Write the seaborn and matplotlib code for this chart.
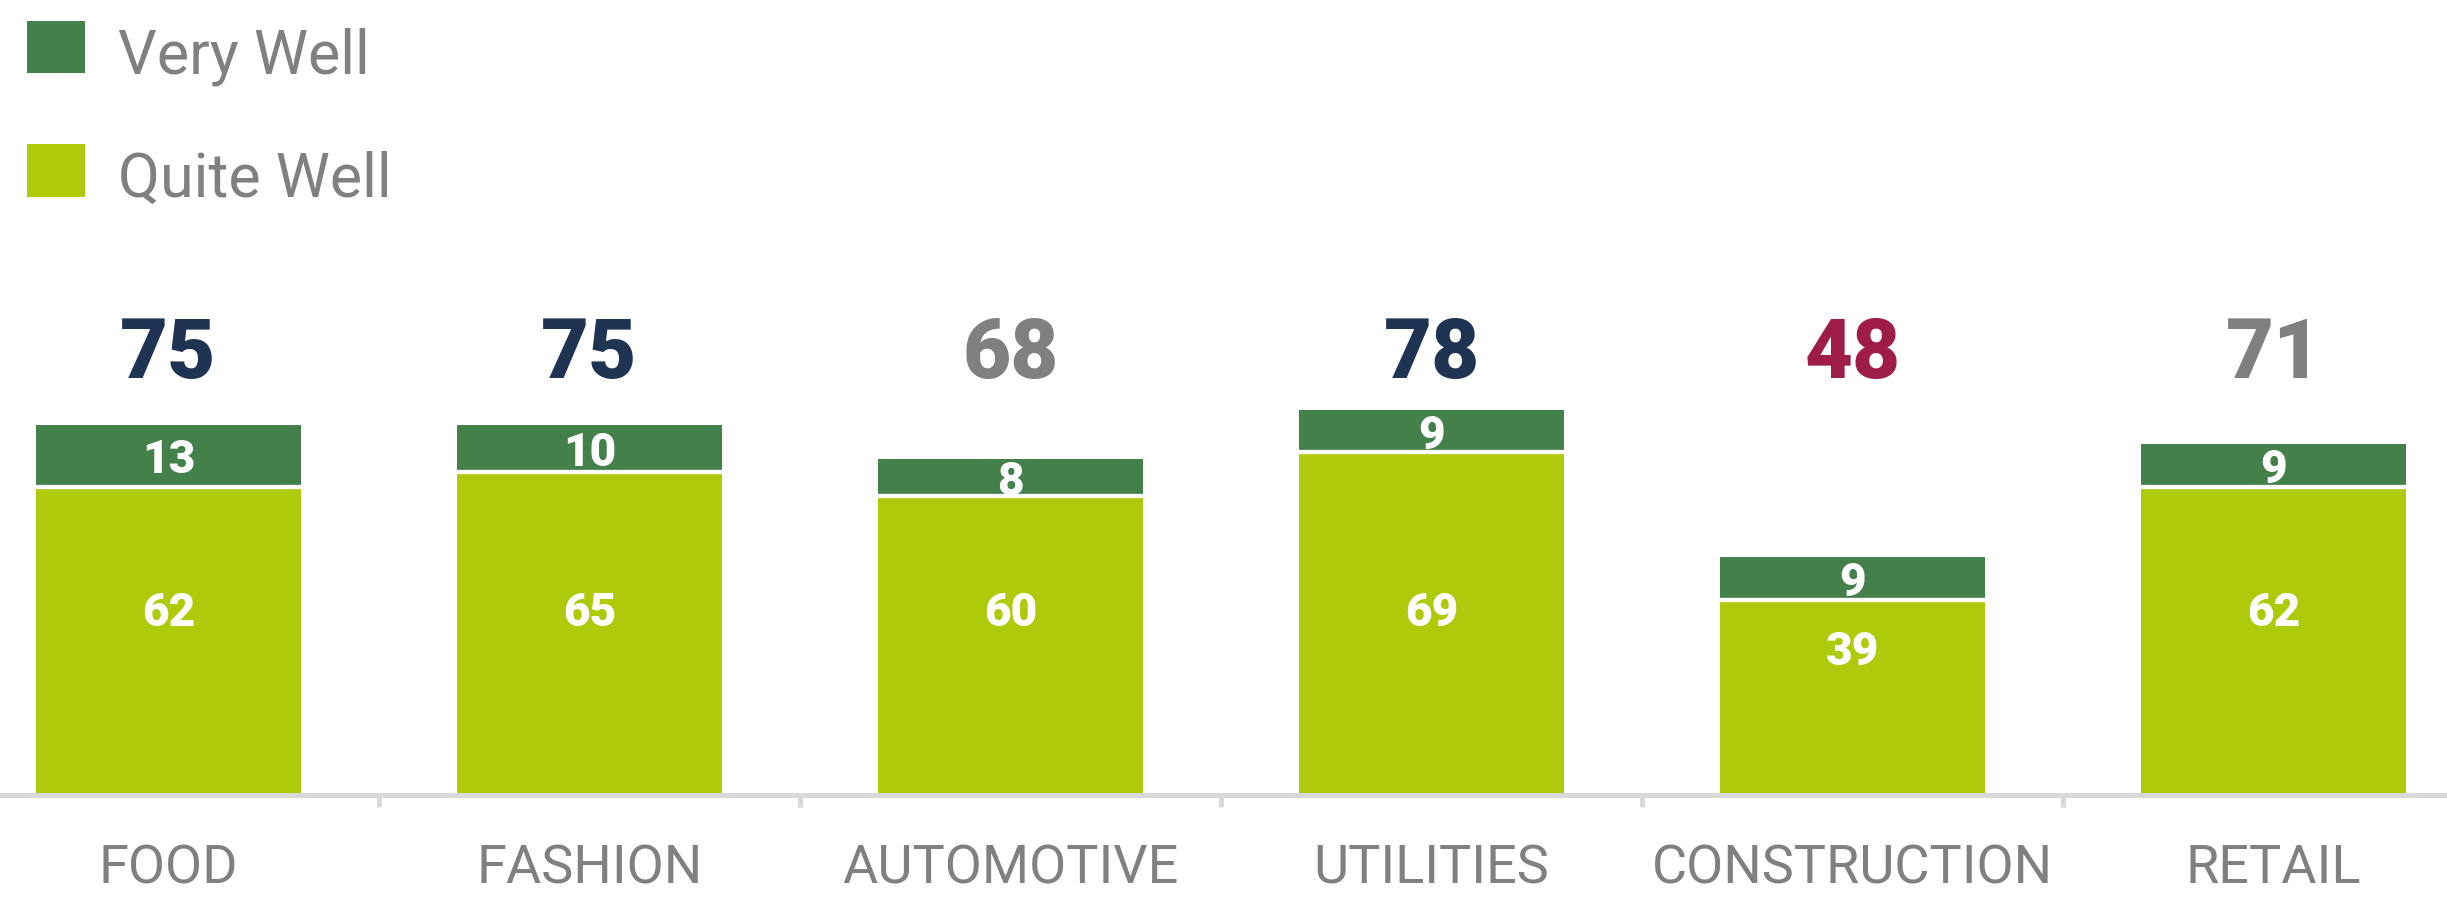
import numpy as np
import pandas as pd
import matplotlib
matplotlib.use("Agg")
import matplotlib.pyplot as plt
from matplotlib.patches import Patch, Rectangle
from matplotlib.legend_handler import HandlerPatch
from matplotlib.transforms import ScaledTranslation
import seaborn as sns

# Survey results per sector (percent of respondents)
sectors = ["FOOD", "FASHION", "AUTOMOTIVE", "UTILITIES", "CONSTRUCTION", "RETAIL"]
very_well = [13, 10, 8, 9, 9, 9]
quite_well = [62, 65, 60, 69, 39, 62]
series_names = ["Very Well", "Quite Well"]

# Styling
DARK = "#43804a"
LIGHT = "#afca0b"
GREY = "#808080"
NAVY = "#1f3352"
CRIMSON = "#a01c48"
AXIS = "#d9d9d9"

DPI = 100
W, H = 2447, 897
px = 72 / DPI  # points per pixel
TOTAL_ROW = 84.5  # baseline of the row of totals, in data units


def total_color(v):
    if v >= 75:
        return NAVY
    if v < 50:
        return CRIMSON
    return GREY


def square_on_baseline(legend, orig_handle, xdescent, ydescent, width, height, fontsize):
    # legend swatch whose bottom edge sits on the text baseline
    return Rectangle((-xdescent, 0), width, height)


df = pd.DataFrame({"sector": sectors, "very": very_well, "quite": quite_well})
df["total"] = df["very"] + df["quite"]

sns.set_theme(style="white")
plt.rcParams["font.family"] = ["Roboto", "DejaVu Sans"]

fig = plt.figure(figsize=(W / DPI, H / DPI), dpi=DPI)
ax = fig.add_axes([0, (H - 793) / H, 1, 491 / H])

# Full-height bars in dark green, then the "quite well" part on top in light green
sns.barplot(data=df, x="sector", y="total", order=sectors, color=DARK,
            saturation=1, width=0.63, linewidth=0, errorbar=None, ax=ax)
sns.barplot(data=df, x="sector", y="quite", order=sectors, color=LIGHT,
            saturation=1, width=0.63, linewidth=0, errorbar=None, ax=ax)

ax.set_xlim(-0.4002, 5.412)
ax.set_ylim(0, 100)

# White separator between the two segments
lift = ScaledTranslation(0, 2 / DPI, fig.dpi_scale_trans)
for bar in ax.containers[1]:
    x0 = bar.get_x()
    ax.plot([x0, x0 + bar.get_width()], [bar.get_height()] * 2, color="white",
            lw=4.3 * px, solid_capstyle="butt", transform=ax.transData + lift,
            zorder=3)

# Value labels
for i, row in df.iterrows():
    xc = i
    ax.text(xc, TOTAL_ROW, f"{row['total']}", ha="center", va="baseline",
            fontsize=83 * px, fontweight="black",
            color=total_color(row["total"]), clip_on=False)
    ax.annotate(f"{row['very']}", (xc, row["quite"] + row["very"] / 2),
                xytext=(0, -16.5 * px), textcoords="offset points",
                ha="center", va="baseline", fontsize=46 * px,
                fontweight="black", color="white", zorder=4)
    ax.text(xc, min(34, row["quite"] - 12.9), f"{row['quite']}",
            ha="center", va="baseline", fontsize=46 * px,
            fontweight="black", color="white", zorder=4)

# Axis: separators between categories as ticks, names as minor tick labels
ax.set_xticks(np.arange(len(sectors) - 1) + 0.5)
ax.set_xticklabels([])
ax.set_xticks(np.arange(len(sectors)), minor=True)
ax.set_xticklabels(sectors, minor=True)
ax.tick_params(axis="x", which="major", length=12 * px, width=5 * px,
               color=AXIS, direction="out", bottom=True)
ax.tick_params(axis="x", which="minor", length=0, pad=48 * px,
               labelsize=54 * px, labelcolor=GREY, bottom=True)
for lab in ax.get_xticklabels(minor=True):
    lab.set_fontweight("light")
ax.set_yticks([])
ax.set_xlabel("")
ax.set_ylabel("")
for side in ("left", "top", "right"):
    ax.spines[side].set_visible(False)
ax.spines["bottom"].set_color(AXIS)
ax.spines["bottom"].set_linewidth(5 * px)
ax.spines["bottom"].set_position(("outward", 2 * px))

handles = [Patch(facecolor=DARK, linewidth=0, label=series_names[0]),
           Patch(facecolor=LIGHT, linewidth=0, label=series_names[1])]
fig.legend(handles=handles, loc="upper left", bbox_to_anchor=(27 / W, 1 - 26 / H),
           frameon=False, fontsize=61 * px, handlelength=0.95,
           handleheight=0.95, handletextpad=0.54, labelspacing=1.05,
           borderpad=0, borderaxespad=0, labelcolor=GREY,
           handler_map={Patch: HandlerPatch(patch_func=square_on_baseline)})

fig.savefig("out.png", dpi=DPI)
